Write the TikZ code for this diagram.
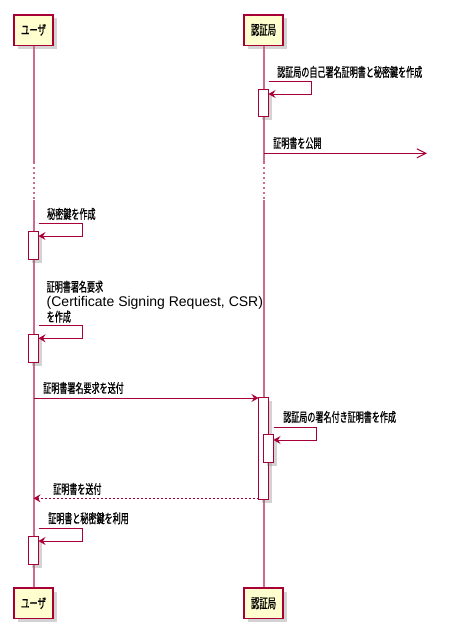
\documentclass[tikz,border=0pt]{standalone}
\usepackage{fontspec}
\setmainfont{Liberation Sans}
\newfontfamily\jp[FakeStretch=0.62,FakeBold=0.8]{Noto Sans CJK JP}
\usetikzlibrary{arrows.meta,shadows}
\definecolor{crim}{HTML}{A80036}
\definecolor{pbox}{HTML}{FEFECE}
\definecolor{lifeclr}{HTML}{CC6A90}
\tikzset{
  part/.style={draw=crim, line width=1.5pt, fill=pbox, minimum width=39pt, minimum height=30.5pt, inner sep=0pt,
    drop shadow={shadow xshift=3.5pt, shadow yshift=-3.5pt, opacity=0.35, fill=gray}, font=\jp\fontsize{13.5}{15}\selectfont},
  act/.style={draw=crim, line width=1pt, fill=white, minimum width=10pt, inner sep=0pt,
    drop shadow={shadow xshift=3.5pt, shadow yshift=-3.5pt, opacity=0.35, fill=gray}},
  msg/.style={draw=crim, line width=1pt, -{Stealth[length=7pt,width=8pt,inset=2.5pt]}},
  lbl/.style={anchor=west, inner sep=0pt, font=\jp\fontsize{13}{15}\selectfont},
}
\begin{document}
\begin{tikzpicture}[x=1pt,y=-1pt]
\useasboundingbox (0,0) rectangle (475,641);
% lifelines
\coordinate (ud1) at (33.5,162);
\coordinate (ud2) at (33.5,200);
\coordinate (cd1) at (263.5,162);
\coordinate (cd2) at (263.5,200);
% participants
\node[part] (u1) at (33.5,30) {ユーザ};
\node[part] (c1) at (263.5,30) {認証局};
\node[part] (u2) at (33.5,603.3) {ユーザ};
\node[part] (c2) at (263.5,603.3) {認証局};
\begin{scope}[draw=lifeclr, line width=2pt]
\draw (u1.south) -- (ud1);
\draw[dash pattern=on 2pt off 3pt] (ud1) -- (ud2);
\draw (ud2) -- (u2.north);
\draw (c1.south) -- (cd1);
\draw[dash pattern=on 2pt off 3pt] (cd1) -- (cd2);
\draw (cd2) -- (c2.north);
\end{scope}
% activations
\node[act, minimum height=27.5pt] (a1) at (263.5,103) {};
\node[act, minimum height=27.5pt] (a2) at (33.5,245.5) {};
\node[act, minimum height=28pt] (a3) at (33.5,348) {};
\node[act, minimum height=101.7pt] (a4) at (263.5,448.2) {};
\node[act, minimum height=27.7pt] (a5) at (268.5,448.8) {};
\node[act, minimum height=28.3pt] (a6) at (33.5,550.2) {};
% message 1
\node[lbl] (t1) at (277,72) {認証局の自己署名証明書と秘密鍵を作成};
\coordinate (m1s) at (268.5,81);
\coordinate (m1e) at (268.5,94);
\draw[msg] (m1s) -- (311.5,81) -- (311.5,94) -- (m1e);
% message 2
\node[lbl] (t2) at (273,143) {証明書を公開};
\coordinate (m2s) at (263.5,153.3);
\coordinate (m2e) at (427,153.3);
\draw[draw=crim, line width=1pt, -{Straight Barb[length=9pt,width=9pt]}] (m2s) -- (m2e);
% message 3
\node[lbl] (t3) at (47,214) {秘密鍵を作成};
\coordinate (m3s) at (38.5,223.3);
\coordinate (m3e) at (38.5,236);
\draw[msg] (m3s) -- (82,223.3) -- (82,236) -- (m3e);
% message 4
\node[lbl, align=left, font=\fontsize{14}{15}\selectfont] (t4) at (46.5,301.7)
  {{\jp\fontsize{13}{15}\selectfont 証明書署名要求}\\(Certificate Signing Request, CSR)\\{\jp\fontsize{13}{15}\selectfont を作成}};
\coordinate (m4s) at (38.5,325.7);
\coordinate (m4e) at (38.5,338.3);
\draw[msg] (m4s) -- (82,325.7) -- (82,338.3) -- (m4e);
% message 5
\node[lbl] (t5) at (43,388) {証明書署名要求を送付};
\coordinate (m5s) at (33.5,398);
\coordinate (m5e) at (258.5,398);
\draw[msg] (m5s) -- (m5e);
% message 6
\node[lbl] (t6) at (283,417) {認証局の署名付き証明書を作成};
\coordinate (m6s) at (273.5,427.3);
\coordinate (m6e) at (273.5,440);
\draw[msg] (m6s) -- (316.7,427.3) -- (316.7,440) -- (m6e);
% message 7
\node[lbl] (t7) at (53,489) {証明書を送付};
\coordinate (m7s) at (258.5,498.3);
\coordinate (m7e) at (33.5,498.3);
\draw[msg, dash pattern=on 2pt off 2pt] (m7s) -- (m7e);
% message 8
\node[lbl] (t8) at (48,518.3) {証明書と秘密鍵を利用};
\coordinate (m8s) at (38.5,528.3);
\coordinate (m8e) at (38.5,541);
\draw[msg] (m8s) -- (82.3,528.3) -- (82.3,541) -- (m8e);
\end{tikzpicture}
\end{document}
